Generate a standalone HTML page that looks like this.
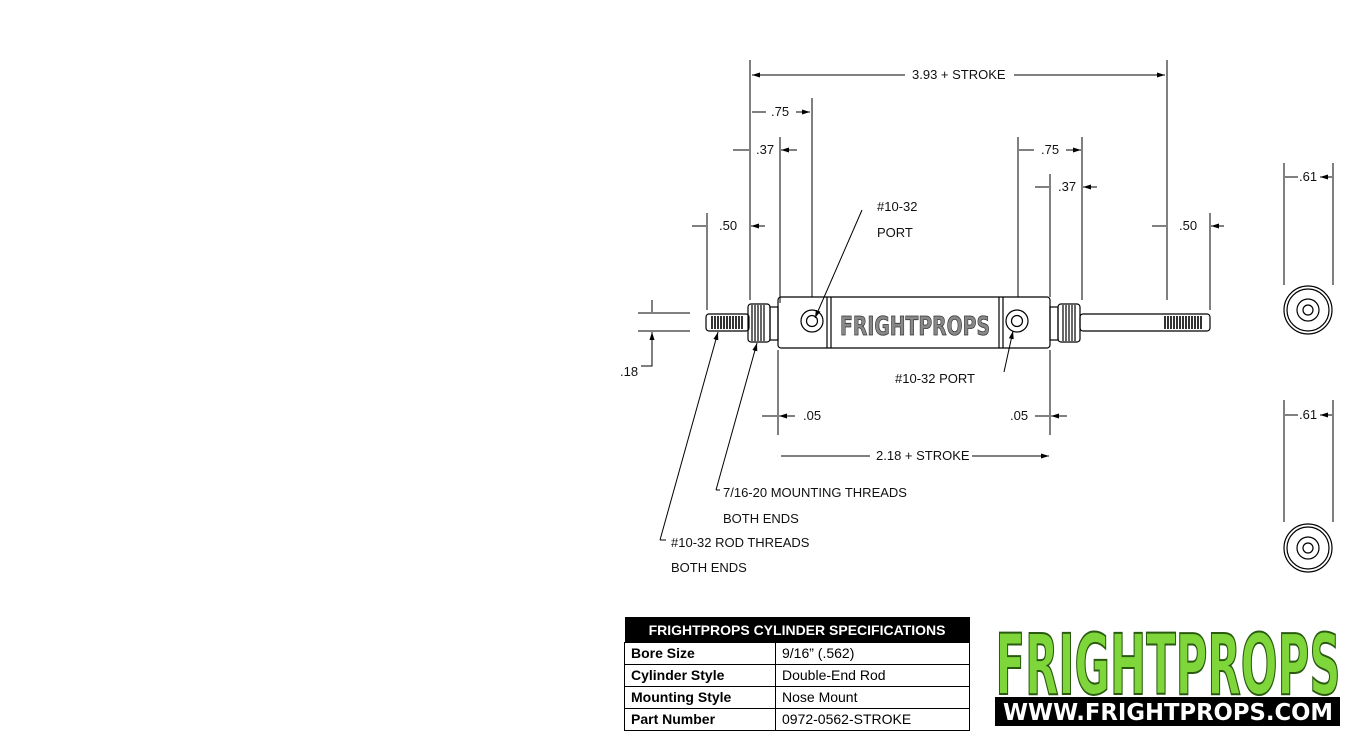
<!DOCTYPE html>
<html><head><meta charset="utf-8"><style>
body{margin:0;background:#fff;width:1365px;height:746px;overflow:hidden;position:relative;font-family:"Liberation Sans",sans-serif}
svg{position:absolute;left:0;top:0}
.t{font-family:"Liberation Sans",sans-serif;font-size:13px;fill:#111;stroke:none}
table{position:absolute;left:624px;top:617px;border-collapse:collapse;width:346px;font-family:"Liberation Sans",sans-serif;font-size:14px}
td{border:1px solid #000;height:21px;padding:0 6px;line-height:21px}
th{background:#000;color:#fff;height:23px;font-size:14px;font-weight:bold}
</style></head><body>
<svg width="1365" height="746" viewBox="0 0 1365 746" stroke="#000" fill="none" stroke-width="1">
<defs>
<marker id="a" markerWidth="8" markerHeight="6" refX="8" refY="3" orient="auto" markerUnits="userSpaceOnUse"><path d="M0,0.5 L8,3 L0,5.5Z" fill="#000" stroke="none"/></marker>
</defs>
<path d="M750 60V300 M1167 60V300 M812 98V297 M780 137V303 M707 213V310 M1018 137V297 M1082 137V300 M1050 174V297 M1210 213V310 M778 350V435 M1050 350V435 M1284 163V285 M1333 163V285 M1284 400V522 M1333 400V522 M638 313H690 M638 331H690"/>
<path d="M752 75H905 M1014 75H1165" marker-end="url(#a)"/>
<path d="M905 75H752" marker-end="url(#a)"/>
<text class="t" x="912" y="79">3.93 + STROKE</text>
<path d="M766 112H752 M796 112H810" marker-end="url(#a)"/>
<text class="t" x="771" y="116">.75</text>
<path d="M733 150H749 M797 150H781" marker-end="url(#a)"/>
<text class="t" x="756" y="154">.37</text>
<path d="M692 226H706 M765 226H751" marker-end="url(#a)"/>
<text class="t" x="719" y="230">.50</text>
<path d="M1034 150H1019 M1066 150H1081" marker-end="url(#a)"/>
<text class="t" x="1041" y="154">.75</text>
<path d="M1035 187H1049 M1097 187H1083" marker-end="url(#a)"/>
<text class="t" x="1058" y="191">.37</text>
<path d="M1152 226H1166 M1224 226H1211" marker-end="url(#a)"/>
<text class="t" x="1179" y="230">.50</text>
<path d="M762 416H777 M795 416H779" marker-end="url(#a)"/>
<text class="t" x="803" y="420">.05</text>
<path d="M1035 416H1049 M1067 416H1051" marker-end="url(#a)"/>
<text class="t" x="1010" y="420">.05</text>
<path d="M870 456H781 M972 456H1049" marker-end="url(#a)"/>
<text class="t" x="876" y="460">2.18 + STROKE</text>
<path d="M652 300V312 M652 345V332" marker-end="url(#a)"/>
<path d="M652 345V366H641"/>
<text class="t" x="620" y="376">.18</text>
<path d="M1285 177H1298 M1332 177H1320" marker-end="url(#a)"/>
<text class="t" x="1299" y="181">.61</text>
<path d="M1285 415H1298 M1332 415H1320" marker-end="url(#a)"/>
<text class="t" x="1299" y="419">.61</text>
<path d="M862 210L815 318" marker-end="url(#a)"/>
<path d="M1004 372L1013 331" marker-end="url(#a)"/>
<path d="M716 490L757 343" marker-end="url(#a)"/>
<path d="M660 540L718 332" marker-end="url(#a)"/>
<path d="M716 490H720 M660 540H666"/>
<text class="t" x="877" y="211">#10-32</text>
<text class="t" x="877" y="237">PORT</text>
<text class="t" x="895" y="383">#10-32 PORT</text>
<text class="t" x="723" y="497">7/16-20 MOUNTING THREADS</text>
<text class="t" x="723" y="523">BOTH ENDS</text>
<text class="t" x="671" y="547">#10-32 ROD THREADS</text>
<text class="t" x="671" y="572">BOTH ENDS</text>
<g stroke-width="1.2">
<rect x="706" y="314" width="43" height="17" rx="3"/>
<path d="M712 316V329 M715 316V329 M718 316V329 M721 316V329 M724 316V329 M727 316V329 M730 316V329 M733 316V329 M736 316V329 M739 316V329 M742 316V329" stroke-width="1.6"/>
<rect x="748" y="304" width="22" height="38" rx="3"/>
<path d="M752 305V341 M755 305V341 M758 305V341 M761 305V341 M764 305V341"/>
<rect x="770" y="307" width="8" height="33"/>
<rect x="778" y="297" width="272" height="51" rx="3"/>
<path d="M827 297V348 M831 297V348 M999 297V348 M1003 297V348"/>
<circle cx="812" cy="321" r="11"/><circle cx="812" cy="321" r="5.5"/>
<circle cx="1017" cy="321" r="11"/><circle cx="1017" cy="321" r="5.5"/>
<rect x="1050" y="307" width="8" height="33"/>
<rect x="1058" y="304" width="22" height="38" rx="3"/>
<path d="M1063 305V341 M1066 305V341 M1069 305V341 M1072 305V341 M1075 305V341"/>
<rect x="1080" y="314" width="130" height="17" rx="3"/>
<path d="M1165 316V329 M1168 316V329 M1171 316V329 M1174 316V329 M1177 316V329 M1180 316V329 M1183 316V329 M1186 316V329 M1189 316V329 M1192 316V329 M1195 316V329 M1198 316V329 M1201 316V329" stroke-width="1.6"/>
</g>
<text x="915" y="335" text-anchor="middle" textLength="150" lengthAdjust="spacingAndGlyphs" style="font-family:'DejaVu Sans',sans-serif;font-weight:bold;font-size:26px" fill="#888" stroke="#333" stroke-width="0.8">FRIGHTPROPS</text>
<g stroke-width="1.2">
<circle cx="1308" cy="310" r="24"/><circle cx="1308" cy="310" r="21"/><circle cx="1308" cy="310" r="11"/><circle cx="1308" cy="310" r="5"/>
<circle cx="1308" cy="548" r="24"/><circle cx="1308" cy="548" r="21"/><circle cx="1308" cy="548" r="11"/><circle cx="1308" cy="548" r="5"/>
</g>
<rect x="995" y="697" width="345" height="29" fill="#000" stroke="none"/>
<text x="1168" y="720" text-anchor="middle" textLength="330" lengthAdjust="spacingAndGlyphs" style="font-family:'DejaVu Sans',sans-serif;font-weight:bold;font-size:23px" fill="#fff" stroke="none">WWW.FRIGHTPROPS.COM</text>
<text x="1168" y="694" text-anchor="middle" textLength="345" lengthAdjust="spacingAndGlyphs" style="font-family:'DejaVu Sans',sans-serif;font-weight:bold;font-size:84px" fill="#7fd63a" stroke="#2a5a10" stroke-width="2">FRIGHTPROPS</text>
</svg>
<table>
<tr><th colspan="2">FRIGHTPROPS CYLINDER SPECIFICATIONS</th></tr>
<tr><td style="font-weight:bold;width:138px">Bore Size</td><td>9/16” (.562)</td></tr>
<tr><td style="font-weight:bold">Cylinder Style</td><td>Double-End Rod</td></tr>
<tr><td style="font-weight:bold">Mounting Style</td><td>Nose Mount</td></tr>
<tr><td style="font-weight:bold">Part Number</td><td>0972-0562-STROKE</td></tr>
</table>
</body></html>
